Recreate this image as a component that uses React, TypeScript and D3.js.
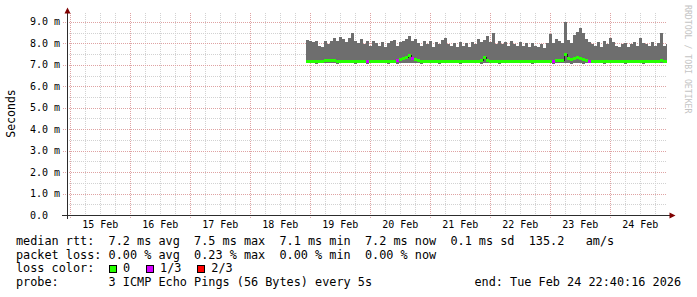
import React from "react";
import * as d3 from "d3";

const W = 697;
const H = 297;

// time frame of the graph (UTC)
const T0 = Date.UTC(2026, 1, 14, 22, 40, 16);
const T1 = Date.UTC(2026, 1, 24, 22, 40, 16);
const DATA_START = Date.UTC(2026, 1, 18, 22, 16, 16);
const STEP_MIN = 72;

const yTickValues = [0, 1, 2, 3, 4, 5, 6, 7, 8, 9];
const yTickLabels = ["0.0", "1.0 m", "2.0 m", "3.0 m", "4.0 m", "5.0 m", "6.0 m", "7.0 m", "8.0 m", "9.0 m"];
const yMinorValues = [0.5, 1.5, 2.5, 3.5, 4.5, 5.5, 6.5, 7.5, 8.5];
const dayNums = [15, 16, 17, 18, 19, 20, 21, 22, 23, 24];
const dayLabels = ["15 Feb", "16 Feb", "17 Feb", "18 Feb", "19 Feb", "20 Feb", "21 Feb", "22 Feb", "23 Feb", "24 Feb"];

// smoke upper edge (ms)
const smokeTop = [
  8.15, 8.1, 8.05, 8.1, 7.9, 7.85, 8.12, 7.95, 8.1, 8.25, 8.1, 8.3, 8.2, 8.05, 8.25, 8.5, 8.1, 8.0, 8.2, 7.95, 8.1, 7.9, 8.1, 8.0,
  7.9, 8.05, 7.85, 8.0, 8.1, 8.15, 7.9, 8.05, 8.1, 8.2, 8.35, 8.1, 8.2, 8.0, 7.9, 8.1, 7.95, 8.1, 7.85, 8.05, 7.95, 8.15, 8.25, 7.95,
  7.9, 8.0, 7.85, 8.05, 7.9, 8.0, 7.85, 8.05, 7.95, 8.2, 8.05, 8.15, 8.35, 8.05, 8.48, 7.95, 8.1, 7.95, 8.05, 7.9, 8.1, 7.95, 7.9, 8.05,
  7.9, 8.0, 7.85, 8.0, 7.9, 7.85, 7.95, 7.8, 8.0, 8.45, 8.0, 8.2, 8.1, 8.0, 9.0, 8.15, 8.0, 8.4, 8.55, 8.7, 8.5, 8.2, 8.05, 7.95,
  7.9, 8.05, 7.85, 8.1, 7.95, 8.25, 8.05, 7.9, 7.85, 7.95, 8.0, 7.85, 7.95, 8.05, 7.9, 8.25, 8.0, 7.95, 7.9, 8.05, 7.9, 8.0, 8.5, 7.9, 7.95,
];

// smoke lower edge (ms)
const smokeBottom = [
  7.08, 7.07, 7.08, 7.06, 7.08, 7.07, 7.08, 7.08, 7.07, 7.08, 7.06, 7.08, 7.07, 7.08, 7.08, 7.07, 7.06, 7.08, 7.07, 7.08, 7.05, 7.08, 7.07, 7.08,
  7.08, 7.07, 7.08, 7.06, 7.08, 7.07, 7.05, 7.08, 7.08, 7.09, 7.1, 7.08, 7.07, 7.08, 7.06, 7.08, 7.07, 7.08, 7.08, 7.07, 7.06, 7.08, 7.07, 7.08,
  7.08, 7.07, 7.08, 7.06, 7.08, 7.07, 7.08, 7.08, 7.07, 7.08, 7.06, 7.08, 7.07, 7.08, 7.08, 7.07, 7.06, 7.08, 7.07, 7.08, 7.08, 7.08, 7.07, 7.08,
  7.08, 7.07, 7.08, 7.06, 7.08, 7.07, 7.08, 7.08, 7.07, 7.08, 7.05, 7.08, 7.07, 7.08, 7.08, 7.07, 7.06, 7.08, 7.07, 7.08, 7.05, 7.08, 7.07, 7.08,
  7.08, 7.07, 7.08, 7.06, 7.08, 7.07, 7.08, 7.08, 7.07, 7.08, 7.06, 7.08, 7.07, 7.08, 7.08, 7.07, 7.06, 7.08, 7.07, 7.08, 7.08, 7.08, 7.07, 7.08, 7.08,
];

// median rtt (ms)
const median = [
  7.15, 7.15, 7.14, 7.15, 7.15, 7.16, 7.2, 7.22, 7.2, 7.18, 7.15, 7.15, 7.14, 7.15, 7.16, 7.15, 7.15, 7.14, 7.15, 7.15, 7.15, 7.15, 7.14, 7.15,
  7.15, 7.14, 7.15, 7.15, 7.16, 7.15, 7.2, 7.25, 7.3, 7.35, 7.42, 7.3, 7.25, 7.2, 7.15, 7.15, 7.14, 7.15, 7.15, 7.16, 7.15, 7.15, 7.14, 7.15,
  7.15, 7.15, 7.14, 7.15, 7.15, 7.16, 7.15, 7.15, 7.14, 7.15, 7.2, 7.32, 7.2, 7.15, 7.15, 7.14, 7.15, 7.15, 7.16, 7.15, 7.15, 7.14, 7.15, 7.15,
  7.15, 7.14, 7.15, 7.15, 7.15, 7.16, 7.15, 7.15, 7.14, 7.15, 7.15, 7.2, 7.2, 7.22, 7.5, 7.3, 7.25, 7.3, 7.35, 7.3, 7.25, 7.18, 7.15, 7.15,
  7.15, 7.14, 7.15, 7.15, 7.16, 7.15, 7.15, 7.14, 7.15, 7.15, 7.15, 7.16, 7.15, 7.15, 7.14, 7.15, 7.15, 7.15, 7.16, 7.15, 7.14, 7.15, 7.2, 7.15, 7.15,
];

const lossOneThirdIdx = [20, 30, 35, 82, 94];

const LOSS_COLORS = ["#26ff00", "#d400ff", "#ff0000"];

const legendRtt = "median rtt:  7.2 ms avg  7.5 ms max  7.1 ms min  7.2 ms now  0.1 ms sd  135.2   am/s";
const legendLoss = "packet loss: 0.00 % avg  0.23 % max  0.00 % min  0.00 % now";
const lossColorTitle = "loss color:";
const lossColorLabels = ["0", "1/3", "2/3"];
const lossColorBoxCols = [13, 18.2, 25.4];
const probeText = "probe:       3 ICMP Echo Pings (56 Bytes) every 5s";
const endText = "end: Tue Feb 24 22:40:16 2026";
const watermark = "RRDTOOL / TOBI OETIKER";

const MONO = "'DejaVu Sans Mono', monospace";
const CW = 7.13; // legend char advance
const LEG_X = 16;
const PRE: React.CSSProperties = { whiteSpace: "pre" };

export default function App() {
  const x = d3.scaleUtc().domain([new Date(T0), new Date(T1)]).range([67, 667]);
  const y = d3.scaleLinear().domain([0, 9.417]).range([215, 13]);
  const plotTop = 13;
  const plotBottom = 215;
  const plotLeft = 67;
  const plotRight = 667;

  const times = smokeTop.map((_, i) => new Date(DATA_START + i * STEP_MIN * 60000));
  const idx = smokeTop.map((_, i) => i);
  const idxExt = [...idx, idx.length - 1];
  const tAt = (k: number, j: number) => (k === idx.length ? new Date(T1) : times[j]);

  const smokeArea = d3
    .area<number>()
    .x((j, k) => x(tAt(k, j)))
    .y0((j) => y(smokeBottom[j]))
    .y1((j) => y(smokeTop[j]))
    .curve(d3.curveStepAfter);

  const medLine = d3
    .line<number>()
    .x((j, k) => x(tAt(k, j)))
    .y((j) => y(median[j]))
    .curve(d3.curveStepAfter);

  const hw = y.invert(215 - 1.5) - y.invert(215); // half band height in ms

  const hourTicks = d3.utcHour.every(6)!.range(new Date(T0), new Date(T1));
  const crisp = (v: number) => Math.round(v) + 0.5;

  const legendLines = [245, 258.7, 272.4, 286];

  return (
    <svg
      width={W}
      height={H}
      viewBox={`0 0 ${W} ${H}`}
      style={{ position: "fixed", left: 0, top: 0, background: "#ffffff" }}
      xmlns="http://www.w3.org/2000/svg"
    >
      <rect x={0} y={0} width={W} height={H} fill="#ffffff" />

      {/* minor horizontal grid */}
      {yMinorValues.map((v) => (
        <line
          key={"hm" + v}
          x1={plotLeft}
          x2={plotRight}
          y1={crisp(y(v))}
          y2={crisp(y(v))}
          stroke="#d2d2d2"
          strokeDasharray="1,1"
          shapeRendering="crispEdges"
        />
      ))}
      {/* minor vertical grid */}
      {hourTicks
        .filter((t) => t.getUTCHours() !== 0)
        .map((t) => (
          <line
            key={"vm" + t.getTime()}
            x1={crisp(x(t))}
            x2={crisp(x(t))}
            y1={plotTop}
            y2={plotBottom}
            stroke="#d2d2d2"
            strokeDasharray="1,1"
            shapeRendering="crispEdges"
          />
        ))}
      {/* major horizontal grid */}
      {yTickValues
        .filter((v) => v > 0)
        .map((v) => (
          <line
            key={"hM" + v}
            x1={63}
            x2={plotRight}
            y1={crisp(y(v))}
            y2={crisp(y(v))}
            stroke="#dfa3a3"
            strokeDasharray="1,1"
            shapeRendering="crispEdges"
          />
        ))}
      {/* major vertical grid (midnight) */}
      {hourTicks
        .filter((t) => t.getUTCHours() === 0)
        .map((t) => (
          <line
            key={"vM" + t.getTime()}
            x1={crisp(x(t))}
            x2={crisp(x(t))}
            y1={plotTop}
            y2={plotBottom + 3}
            stroke="#dfa3a3"
            strokeDasharray="1,1"
            shapeRendering="crispEdges"
          />
        ))}

      {/* smoke */}
      <path d={smokeArea(idxExt) || ""} fill="#6e6e6e" shapeRendering="crispEdges" />
      {/* median dark line */}
      <path d={medLine(idxExt) || ""} fill="none" stroke="#202020" strokeWidth={1} shapeRendering="crispEdges" />
      {/* median loss-colored band */}
      {idx.map((j) => {
        const xa = x(times[j]);
        const xb = j + 1 < idx.length ? x(times[j + 1]) : x(new Date(T1));
        const col = lossOneThirdIdx.includes(j) ? LOSS_COLORS[1] : LOSS_COLORS[0];
        return (
          <rect
            key={"mb" + j}
            x={xa}
            width={xb - xa}
            y={y(median[j] + hw)}
            height={y(median[j] - hw) - y(median[j] + hw)}
            fill={col}
            shapeRendering="crispEdges"
          />
        );
      })}

      {/* axes */}
      <line x1={62} x2={671} y1={215.5} y2={215.5} stroke="#2c2c2c" shapeRendering="crispEdges" />
      <line x1={67.5} x2={67.5} y1={219} y2={10} stroke="#2c2c2c" shapeRendering="crispEdges" />
      <path d="M64.5,13.5 L70.5,13.5 L67.5,7.5 Z" fill="#7f0000" />
      <path d="M669.5,212.5 L669.5,218.5 L675.5,215.5 Z" fill="#7f0000" />

      {/* y tick labels */}
      {yTickValues.map((v, i) => (
        <text
          key={"yl" + v}
          x={30}
          y={y(v)}
          dy="0.35em"
          fontFamily={MONO}
          fontSize={10}
          fill="#000"
          xmlSpace="preserve"
          style={PRE}
        >
          {yTickLabels[i]}
        </text>
      ))}
      {/* x tick labels at noon */}
      {dayNums.map((d, i) => (
        <text
          key={"xl" + d}
          x={x(new Date(Date.UTC(2026, 1, d, 12)))}
          y={224.5}
          dy="0.35em"
          textAnchor="middle"
          fontFamily={MONO}
          fontSize={10}
          fill="#000"
        >
          {dayLabels[i]}
        </text>
      ))}

      {/* y axis title */}
      <text
        transform={`translate(15,113.5) rotate(-90)`}
        textAnchor="middle"
        fontFamily={MONO}
        fontSize={11.5}
        fill="#000"
      >
        Seconds
      </text>

      {/* watermark */}
      <text
        transform={`translate(685,5) rotate(90)`}
        fontFamily={MONO}
        fontSize={8.2}
        fill="#c4c4c4"
        xmlSpace="preserve"
        style={PRE}
      >
        {watermark}
      </text>

      {/* legend */}
      <g fontFamily={MONO} fontSize={11.84} fill="#000">
        <text x={LEG_X} y={legendLines[0]} xmlSpace="preserve" style={PRE}>{legendRtt}</text>
        <text x={LEG_X} y={legendLines[1]} xmlSpace="preserve" style={PRE}>{legendLoss}</text>
        <text x={LEG_X} y={legendLines[2]} xmlSpace="preserve" style={PRE}>{lossColorTitle}</text>
        {lossColorLabels.map((lab, i) => {
          const bx = Math.round(LEG_X + lossColorBoxCols[i] * CW);
          return (
            <g key={"lc" + i}>
              <rect x={bx + 0.5} y={265.5} width={7} height={7} fill={LOSS_COLORS[i]} stroke="#000" strokeWidth={1} />
              <text x={LEG_X + (lossColorBoxCols[i] + 2) * CW} y={legendLines[2]}>{lab}</text>
            </g>
          );
        })}
        <text x={LEG_X} y={legendLines[3]} xmlSpace="preserve" style={PRE}>{probeText}</text>
        <text x={681} y={legendLines[3]} textAnchor="end" xmlSpace="preserve" style={PRE}>{endText}</text>
      </g>
    </svg>
  );
}
